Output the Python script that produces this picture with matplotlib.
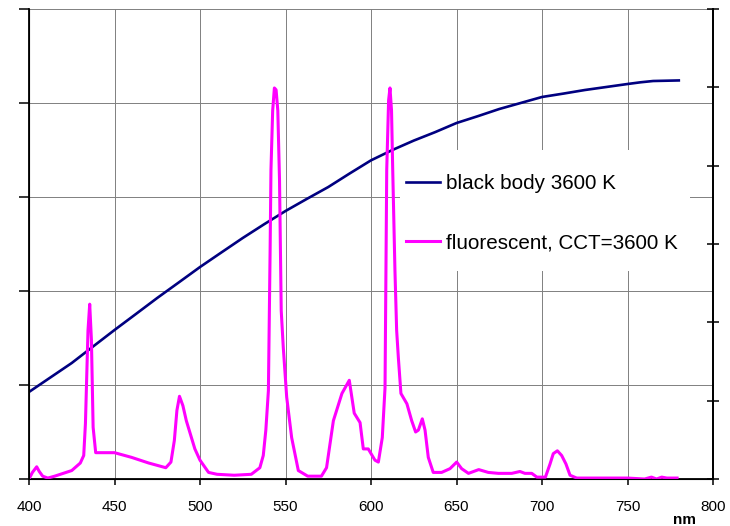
import matplotlib
matplotlib.use("Agg")
import matplotlib.pyplot as plt
from matplotlib.patches import Rectangle

plt.rcParams['font.family'] = ['Liberation Sans', 'DejaVu Sans']

# black body 3600 K (left-axis units)
bb_nm = [400, 412.5, 425, 437.5, 450, 462.5, 475, 487.5, 500, 512.5, 525, 537.5, 550,
         562.5, 575, 587.5, 600, 612.5, 625, 637.5, 650, 662.5, 675, 687.5, 700,
         712.5, 725, 737.5, 750, 757.5, 765, 772.5, 780]
bb_val = [0.926, 1.08, 1.234, 1.41, 1.585, 1.755, 1.926, 2.09, 2.255, 2.41, 2.564, 2.71,
          2.851, 2.98, 3.106, 3.25, 3.39, 3.50, 3.60, 3.69, 3.787, 3.86, 3.936, 4.00,
          4.064, 4.10, 4.138, 4.17, 4.202, 4.22, 4.234, 4.237, 4.24]

# fluorescent lamp, CCT = 3600 K
fl_nm = [400, 402, 404.5, 406, 408, 411, 415, 420, 425, 430, 432, 433, 434.5, 435.5,
         436.5, 437.5, 439, 441, 450, 460, 470, 480, 483, 485, 486.5, 488, 490, 492,
         495, 497, 500, 505, 510, 520, 530, 535, 537, 538.5, 540, 541, 541.5, 542.5,
         543.5, 544.5, 545.5, 546.5, 547.5, 548.7, 550.7, 553.6, 557.5, 563, 571, 574,
         578, 583, 587.3, 590.2, 593.6, 595.5, 598.4, 602.3, 604.3, 606.6, 608.2,
         609.2, 610.3, 611.1, 612, 612.7, 614, 615, 616, 617.5, 621, 623.8, 626.1,
         627.7, 630, 631.6, 633.5, 636.4, 641.3, 646.2, 650.1, 653, 657, 663, 668.6,
         674.5, 682.3, 687.1, 690, 694, 697, 702, 704.7, 706.6, 709, 711.5, 714,
         716.4, 720.3, 730, 740, 750, 760, 764, 767, 770, 773, 779]
fl_val = [0.0, 0.07, 0.13, 0.08, 0.03, 0.01, 0.03, 0.06, 0.09, 0.17, 0.25, 0.59, 1.58, 1.86,
          1.48, 0.55, 0.28, 0.28, 0.28, 0.23, 0.17, 0.12, 0.18, 0.41, 0.73, 0.88, 0.78, 0.62,
          0.44, 0.32, 0.20, 0.07, 0.05, 0.04, 0.05, 0.12, 0.25, 0.52, 0.94, 2.43, 3.29, 3.92,
          4.16, 4.14, 3.92, 3.18, 1.79, 1.40, 0.87, 0.44, 0.09, 0.03, 0.03, 0.12,
          0.62, 0.91, 1.05, 0.70, 0.60, 0.32, 0.32, 0.20, 0.18, 0.44, 0.97,
          3.29, 4.03, 4.16, 3.92, 3.29, 2.22, 1.58, 1.29, 0.91, 0.80, 0.62, 0.50,
          0.52, 0.64, 0.52, 0.23, 0.07, 0.07, 0.11, 0.18, 0.11, 0.06, 0.10, 0.07,
          0.06, 0.06, 0.08, 0.06, 0.06, 0.02, 0.02, 0.16, 0.27, 0.30, 0.25, 0.16,
          0.04, 0.01, 0.01, 0.01, 0.01, 0.0, 0.02, 0.0, 0.02, 0.01, 0.01]

x_ticks = [400, 450, 500, 550, 600, 650, 700, 750, 800]

fig = plt.figure(figsize=(7.3, 5.26), dpi=100)
ax = fig.add_axes([29 / 730, 1 - 479 / 526, 684 / 730, 470 / 526])

ax.plot(bb_nm, bb_val, color='#000080', lw=1.9, label='black body 3600 K', zorder=3)
ax.plot(fl_nm, fl_val, color='#ff00ff', lw=2.2, label='fluorescent, CCT=3600 K', zorder=4)

ax.set_xlim(400, 800)
ax.set_ylim(0, 5)
ax.set_xticks(x_ticks)
ax.set_xticklabels([str(t) for t in x_ticks], fontsize=11)
ax.set_yticks(range(6))
ax.set_yticklabels([])
ax.grid(True, color='#808080', lw=0.7)
ax.tick_params(axis='y', length=7, width=1.1, direction='out')
ax.tick_params(axis='x', length=4, width=1.1, direction='out', pad=11)
ax.spines['top'].set_visible(False)
for s in ['left', 'bottom', 'right']:
    ax.spines[s].set_linewidth(1.3)

ax2 = ax.twinx()
ax2.set_ylim(0, 6)
ax2.set_yticks(range(7))
ax2.set_yticklabels([])
ax2.tick_params(axis='y', length=9, width=1.1, direction='inout')
ax2.spines['top'].set_visible(False)
ax2.spines['right'].set_linewidth(1.3)

# white box behind the legend
ax.add_patch(Rectangle((0.542, 0.4426), 0.424, 0.257, transform=ax.transAxes,
                       facecolor='white', edgecolor='none', zorder=1.8))
ax.legend(loc='center left', bbox_to_anchor=(0.551, 0.565), frameon=False,
          fontsize=14.9, handlelength=1.65, handletextpad=0.3, labelspacing=1.95,
          borderpad=0, borderaxespad=0)

fig.text(685 / 730, 1 - 520 / 526, 'nm', fontsize=11, fontweight='bold',
         ha='center', va='center')

fig.savefig('out.png', dpi=100)
